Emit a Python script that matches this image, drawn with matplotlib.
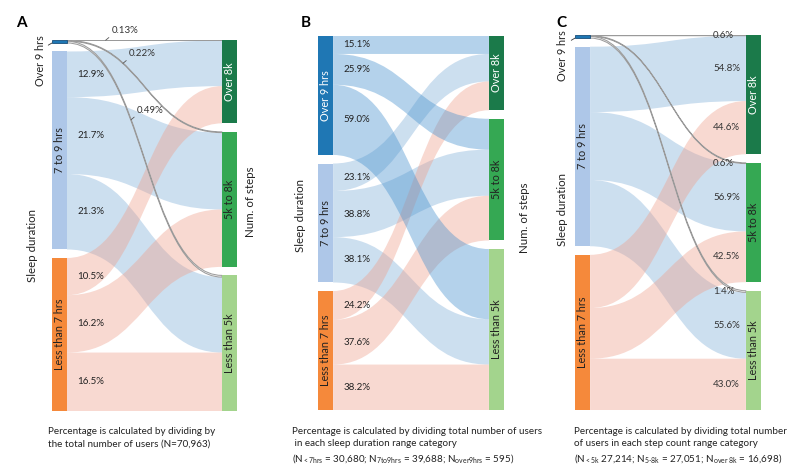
import numpy as np
import matplotlib
matplotlib.use("Agg")
import matplotlib.pyplot as plt
from matplotlib.path import Path
from matplotlib.patches import PathPatch, Rectangle

plt.rcParams['font.family'] = ['Lato', 'DejaVu Sans']
plt.rcParams['mathtext.fontset'] = 'custom'
plt.rcParams['mathtext.rm'] = 'Lato'
plt.rcParams['mathtext.it'] = 'Lato:italic'

# data
sleep_labels = ["Over 9 hrs", "7 to 9 hrs", "Less than 7 hrs"]
step_labels = ["Over 8k", "5k to 8k", "Less than 5k"]

# rows = sleep duration, cols = step count (percent)
flows_a = [[0.13, 0.22, 0.49],
           [12.9, 21.7, 21.3],
           [10.5, 16.2, 16.5]]
flows_b = [[15.1, 25.9, 59.0],
           [23.1, 38.8, 38.1],
           [24.2, 37.6, 38.2]]
flows_c = [[0.6, 0.6, 1.4],
           [54.8, 56.9, 55.6],
           [44.6, 42.5, 43.0]]

caption_a = "Percentage is calculated by dividing by\nthe total number of users (N=70,963)"
caption_b = ("Percentage is calculated by dividing total number of users\n"
             " in each sleep duration range category\n"
             r"(N$_{\mathrm{<7hrs}}$ = 30,680; N$_{\mathrm{7to9hrs}}$ = 39,688; "
             r"N$_{\mathrm{over9hrs}}$ = 595)")
caption_c = ("Percentage is calculated by dividing total number\n"
             "of users in each step count range category\n"
             r"(N$_{\mathrm{<5k}}$ 27,214; N$_{\mathrm{5\text{-}8k}}$ = 27,051; "
             r"N$_{\mathrm{over\ 8k}}$ = 16,698)")

# colours
sleep_colors = ['#1f77b4', '#aec7e8', '#f5893b']
sleep_text = ['white', '#222222', '#222222']
flow_colors = ['#448fcd', '#80afd9', '#efa08c']
step_colors = ['#1b7a4a', '#35a853', '#a3d48d']
step_text = ['white', '#222222', '#222222']

W, H = 789, 475
fig = plt.figure(figsize=(W / 100, H / 100), dpi=100)


def px(x, y):
    return x / W, 1 - y / H


def band(x0, x1, s0, t0, v):
    xm = (x0 + x1) / 2
    verts = [(x0, s0), (xm, s0), (xm, t0), (x1, t0),
             (x1, t0 + v), (xm, t0 + v), (xm, s0 + v), (x0, s0 + v), (x0, s0)]
    codes = [Path.MOVETO, Path.CURVE4, Path.CURVE4, Path.CURVE4,
             Path.LINETO, Path.CURVE4, Path.CURVE4, Path.CURVE4, Path.CLOSEPOLY]
    return Path(verts, codes)


def curve_y(x0, x1, s, t, xq):
    # centre line of a link, y at x = xq
    tt = np.linspace(0, 1, 400)
    xs = x0 + (x1 - x0) * (1.5 * tt * (1 - tt) + tt ** 3)
    ys = s + (t - s) * (3 * (1 - tt) * tt ** 2 + tt ** 3)
    return np.interp(xq, xs, ys)


def draw_sankey(ax, flows, label_side="left", thin_first=False, tiny_label_x=None):
    F = np.array(flows, dtype=float)
    total = F.sum()
    gap = 0.024 * total
    src_tot = F.sum(axis=1)
    tgt_tot = F.sum(axis=0)
    src_top = np.concatenate([[0], np.cumsum(src_tot + gap)[:-1]])
    tgt_top = np.concatenate([[0], np.cumsum(tgt_tot + gap)[:-1]])
    height = total + 2 * gap
    nw = 15 / 185
    ax.set_xlim(0, 1)
    ax.set_ylim(height, 0)
    ax.axis('off')

    links = {}
    for i in range(3):
        for j in range(3):
            s0 = src_top[i] + F[i, :j].sum()
            t0 = tgt_top[j] + F[:i, j].sum()
            links[(i, j)] = (s0, t0, F[i, j])

    for i in [1, 2, 0]:
        for j in range(3):
            s0, t0, v = links[(i, j)]
            if i == 0 and thin_first:
                patch = PathPatch(band(nw, 1 - nw, s0, t0, v), facecolor='#f2f2f2',
                                  edgecolor='#9a9a9a', lw=0.7, zorder=3)
            else:
                patch = PathPatch(band(nw, 1 - nw, s0, t0, v), facecolor=flow_colors[i],
                                  alpha=0.4, lw=0, zorder=2)
            ax.add_patch(patch)

    # nodes
    for i in range(3):
        ec = '#1a4f7a' if (i == 0 and thin_first) else 'none'
        ax.add_patch(Rectangle((0, src_top[i]), nw, src_tot[i], facecolor=sleep_colors[i],
                               edgecolor=ec, lw=0.6, zorder=4))
        if thin_first and i == 0:
            ax.annotate(sleep_labels[i], xy=(0, src_top[i] + src_tot[i]),
                        xytext=(-12, -18), textcoords='offset pixels', rotation=90,
                        ha='center', va='center', fontsize=7.8, color='#222222',
                        arrowprops=dict(arrowstyle='-', color='#333333', lw=0.6,
                                        relpos=(1.0, 0.78), shrinkA=0, shrinkB=0))
        else:
            ax.text(nw / 2, src_top[i] + src_tot[i] / 2, sleep_labels[i], rotation=90,
                    ha='center', va='center', fontsize=7.8, color=sleep_text[i], zorder=5)
    for j in range(3):
        ax.add_patch(Rectangle((1 - nw, tgt_top[j]), nw, tgt_tot[j], facecolor=step_colors[j],
                               lw=0, zorder=4))
        ax.text(1 - nw / 2, tgt_top[j] + tgt_tot[j] / 2, step_labels[j], rotation=90,
                ha='center', va='center', fontsize=7.8, color=step_text[j], zorder=5)

    # percentage labels
    for i in range(3):
        for j in range(3):
            s0, t0, v = links[(i, j)]
            txt = f"{F[i, j]:.2f}%" if F[i, j] < 0.5 or (F[i, j] < 1 and label_side == "left") else f"{F[i, j]:.1f}%"
            if label_side == "left":
                if i == 0 and tiny_label_x is not None:
                    xq = tiny_label_x[j]
                    yq = curve_y(nw, 1 - nw, s0 + v / 2, t0 + v / 2, xq)
                    ax.annotate(txt, xy=(xq, yq), xytext=(6, 5), textcoords='offset pixels',
                                ha='left', va='bottom', fontsize=7, color='#333333', zorder=6,
                                arrowprops=dict(arrowstyle='-', color='#555555', lw=0.6,
                                                relpos=(0, 0), shrinkA=0, shrinkB=0))
                else:
                    ax.text(nw + 0.055, s0 + v / 2, txt, ha='left', va='center',
                            fontsize=7, color='#222222', zorder=6)
            else:
                ax.text(0.742, t0 + v / 2, txt, ha='left', va='center',
                        fontsize=7, color='#333333', zorder=6)


def add_axes_px(x0, x1, y0, y1):
    return fig.add_axes([x0 / W, 1 - y1 / H, (x1 - x0) / W, (y1 - y0) / H])


ax_a = add_axes_px(52, 237, 40, 411)
ax_b = add_axes_px(318, 504, 36, 410)
ax_c = add_axes_px(575, 761, 35, 410)

draw_sankey(ax_a, flows_a, "left", thin_first=True, tiny_label_x=[0.29, 0.384, 0.427])
draw_sankey(ax_b, flows_b, "left")
draw_sankey(ax_c, flows_c, "right", thin_first=True)

# panel letters
for letter, (x, y) in zip("ABC", [(16, 23), (301, 23), (556, 23)]):
    fig.text(*px(x, y), letter, fontsize=11, fontweight='bold', ha='left', va='center')

# axis titles
for x, y in [(33, 245), (301, 215), (563, 210)]:
    fig.text(*px(x, y), "Sleep duration", rotation=90, ha='center', va='center',
             fontsize=8.3, color='#222222')
for x, y in [(251, 202), (524, 218)]:
    fig.text(*px(x, y), "Num. of steps", rotation=90, ha='center', va='center',
             fontsize=8.3, color='#222222')

# captions
for x, cap in [(48, caption_a), (292, caption_b), (574, caption_c)]:
    fig.text(*px(x, 427), cap, ha='left', va='top', fontsize=7.1, color='#222222',
             linespacing=1.45)

fig.savefig("out.png", dpi=100)
